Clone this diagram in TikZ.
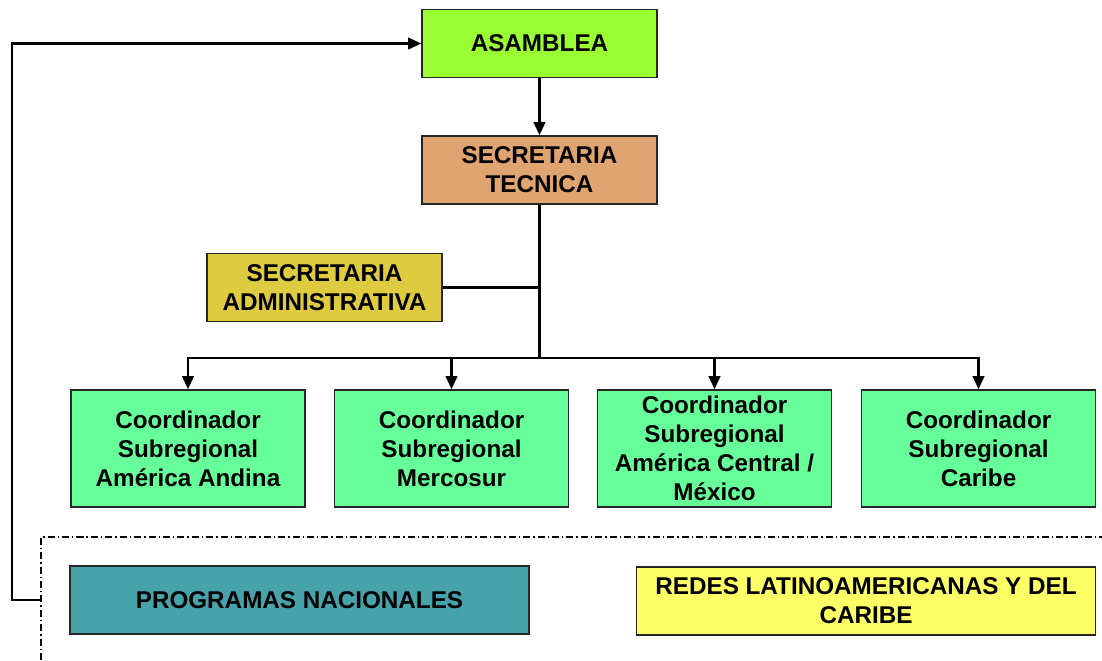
\documentclass[tikz,border=0pt]{standalone}
\usepackage{fontspec}
\setmainfont{Liberation Sans}
\usetikzlibrary{arrows.meta}
\definecolor{asamcol}{HTML}{99FF33}
\definecolor{teccol}{HTML}{E0A470}
\definecolor{admcol}{HTML}{DECB40}
\definecolor{coorcol}{HTML}{66FF99}
\definecolor{progcol}{HTML}{47A3AA}
\definecolor{redcol}{HTML}{FFFF66}
\begin{document}
\begin{tikzpicture}[x=0.02cm,y=-0.02cm,
    box/.style={draw=black!85,line width=0.9pt,align=center,inner sep=0pt,
      font=\fontsize{13.8}{16.5}\selectfont\bfseries},
    topbox/.style={box,minimum width=4.7cm,minimum height=1.36cm},
    coorbox/.style={box,fill=coorcol,minimum width=4.68cm,minimum height=2.34cm},
    widebox/.style={box,minimum width=9.18cm,minimum height=1.36cm},
    link/.style={line width=1.3pt},
    arr/.style={link,-{Triangle[length=0.26cm,width=0.23cm]}},
    dashdot/.style={line width=0.7pt,dash pattern=on 4pt off 1.7pt on 0.8pt off 1.7pt}]
  \useasboundingbox (0,0) rectangle (1102,660);
  \node[topbox,fill=asamcol] (asamblea) at (539.5,43.5) {ASAMBLEA};
  \node[topbox,fill=teccol] (tecnica) at (539.5,170) {SECRETARIA\\TECNICA};
  \node[topbox,fill=admcol] (admin) at (324.5,287.5) {SECRETARIA\\ADMINISTRATIVA};
  \node[coorbox] (andina) at (188,448.5) {Coordinador\\Subregional\\América Andina};
  \node[coorbox] (mercosur) at (451.5,448.5) {Coordinador\\Subregional\\Mercosur};
  \node[coorbox] (central) at (714.5,448.5) {Coordinador\\Subregional\\América Central /\\México};
  \node[coorbox] (caribe) at (978.5,448.5) {Coordinador\\Subregional\\Caribe};
  \node[widebox,fill=progcol] (programas) at (299.5,600) {PROGRAMAS NACIONALES};
  \node[widebox,fill=redcol] (redes) at (866,601) {REDES LATINOAMERICANAS Y DEL\\CARIBE};
  \coordinate (bus) at (539.5,358);
  \coordinate (fb) at (42,600);
  \coordinate (corner) at (12,600);
  % lines
  \draw[arr] (asamblea) -- (tecnica);
  \draw[link] (tecnica) -- (bus);
  \draw[link] (admin) -- (admin -| bus);
  \draw[arr] (bus) -| (andina);
  \draw[arr] (bus) -| (mercosur);
  \draw[arr] (bus) -| (central);
  \draw[arr] (bus) -| (caribe);
  \draw[arr] (fb) -- (corner) |- (asamblea);
  \draw[dashdot] (41,660) |- (1102,537);
\end{tikzpicture}
\end{document}
